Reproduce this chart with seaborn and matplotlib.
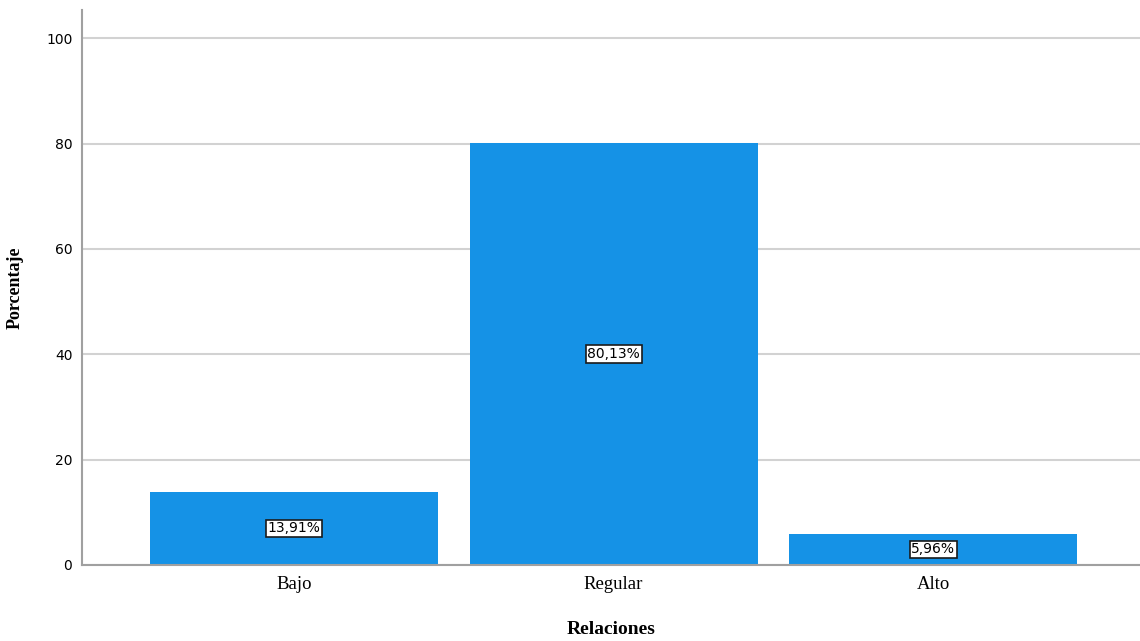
import matplotlib
matplotlib.use("Agg")
import matplotlib.pyplot as plt
import seaborn as sns

categorias = ["Bajo", "Regular", "Alto"]
porcentajes = [13.91, 80.13, 5.96]
etiquetas = ["13,91%", "80,13%", "5,96%"]
yticks = [0, 20, 40, 60, 80, 100]

sns.set_style("white")

fig = plt.figure(figsize=(11.4, 6.41), dpi=100)
ax = fig.add_axes([0.072, 0.1186, 0.928, 0.8654])

sns.barplot(x=categorias, y=porcentajes, color="#1592e6", saturation=1,
            width=0.9, edgecolor="none", ax=ax)

ax.bar_label(ax.containers[0], labels=etiquetas, label_type="center",
             fontsize=10, family="DejaVu Sans", color="black",
             bbox=dict(boxstyle="square,pad=0.12", fc="white", ec="#1a1a1a", lw=1.2))

ax.set_ylim(0, 105.3)
ax.set_xlim(-0.662, 2.646)
ax.set_yticks(yticks)
ax.set_yticklabels([str(t) for t in yticks], family="DejaVu Sans", fontsize=10,
                   color="black")
ax.yaxis.grid(True, color="#d2d2d2", lw=1.5)
ax.set_axisbelow(True)

for lab in ax.get_xticklabels():
    lab.set_family("Liberation Serif")
    lab.set_fontsize(13.5)
    lab.set_color("black")

ax.tick_params(axis="both", length=0, pad=7)
ax.tick_params(axis="x", pad=8)

for s in ["top", "right"]:
    ax.spines[s].set_visible(False)
for s in ["left", "bottom"]:
    ax.spines[s].set_color("#a0a0a0")
    ax.spines[s].set_linewidth(1.5)

ax.set_xlabel("Relaciones", family="Liberation Serif", fontsize=14,
              fontweight="bold", labelpad=20, color="black")
ax.set_ylabel("Porcentaje", family="Liberation Serif", fontsize=13,
              fontweight="bold", labelpad=16, color="black")

fig.savefig("out.png", dpi=100)
